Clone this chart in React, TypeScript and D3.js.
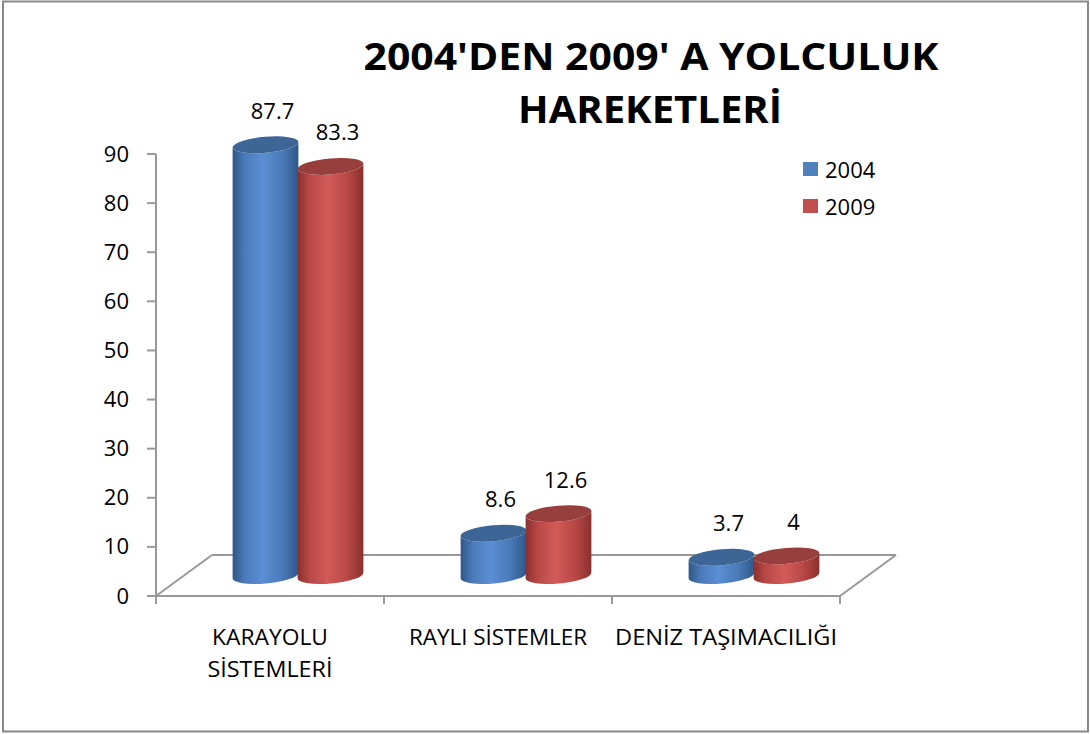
import React from "react";
import * as d3 from "d3";

const categories = ["KARAYOLU SİSTEMLERİ", "RAYLI SİSTEMLER", "DENİZ TAŞIMACILIĞI"];
const categoryLines = [["KARAYOLU", "SİSTEMLERİ"], ["RAYLI SİSTEMLER"], ["DENİZ TAŞIMACILIĞI"]];
const series = ["2004", "2009"];
const values2004 = [87.7, 8.6, 3.7];
const values2009 = [83.3, 12.6, 4];
const yTicks = [0, 10, 20, 30, 40, 50, 60, 70, 80, 90];
const titleLines = ["2004'DEN 2009' A YOLCULUK", "HAREKETLERİ"];

const W = 1090;
const H = 734;
const FONT = "'Open Sans', 'Noto Sans', sans-serif";

const labelWidths: Record<string, number> = {
  "KARAYOLU": 116,
  "SİSTEMLERİ": 125,
  "RAYLI SİSTEMLER": 178,
  "DENİZ TAŞIMACILIĞI": 222,
};

const colors = {
  "2004": { dark: "#2f5889", mid: "#4a7ab8", light: "#5b8ed4", top: "#3d6696", legend: "#4f81bd" },
  "2009": { dark: "#8a302e", mid: "#b84846", light: "#d35b59", top: "#973f3d", legend: "#c0504d" },
};

export default function App() {
  const left = 156;
  const right = 840;
  const top = 154;
  const bottom = 596;
  const dx = 28; // depth offset (middle of floor)
  const dy = -20.5;
  const backDx = 56;
  const backDy = -41;

  const y = d3.scaleLinear().domain([0, 90]).range([bottom, top]);
  const x = d3.scaleBand<string>().domain(categories).range([left, right]).padding(0);
  const bw = x.bandwidth();
  const xs = d3.scaleBand<string>().domain(series).range([bw / 2 - 65, bw / 2 + 65]).padding(0);

  const rx = 33;
  const ry = 8;
  const theta = -5;
  const tr = (theta * Math.PI) / 180;
  const cosT = Math.cos(tr);
  const sinT = Math.sin(tr);

  const valuesBySeries: Record<string, number[]> = { "2004": values2004, "2009": values2009 };

  const cylinders: any[] = [];
  series.forEach((s) => {
    categories.forEach((c, i) => {
      const v = valuesBySeries[s][i];
      const cx = (x(c) as number) + (xs(s) as number) + xs.bandwidth() / 2 + dx;
      const y0 = y(0) + dy;
      const y1 = y(v) + dy;
      cylinders.push({ s, c, i, v, cx, y0, y1 });
    });
  });
  cylinders.sort((a, b) => a.i - b.i || series.indexOf(a.s) - series.indexOf(b.s));

  const bodyPath = (cx: number, y0: number, y1: number) => {
    const Lx = cx - rx * cosT;
    const Rx = cx + rx * cosT;
    const Ly0 = y0 - rx * sinT;
    const Ry0 = y0 + rx * sinT;
    const Ly1 = y1 - rx * sinT;
    const Ry1 = y1 + rx * sinT;
    return `M${Lx},${Ly1} L${Lx},${Ly0} A${rx},${ry} ${theta} 0 0 ${Rx},${Ry0} L${Rx},${Ry1} A${rx},${ry} ${theta} 0 1 ${Lx},${Ly1} Z`;
  };

  const axisColor = "#999999";

  return (
    <svg width={W} height={H} style={{ position: "absolute", left: 0, top: 0 }}>
      <defs>
        {series.map((s) => (
          <linearGradient key={s} id={`g${s}`} x1="0" x2="1" y1="0" y2="0">
            <stop offset="0" stopColor={colors[s].dark} />
            <stop offset="0.18" stopColor={colors[s].mid} />
            <stop offset="0.45" stopColor={colors[s].light} />
            <stop offset="0.75" stopColor={colors[s].mid} />
            <stop offset="1" stopColor={colors[s].dark} />
          </linearGradient>
        ))}
      </defs>
      <rect x={0} y={0} width={W} height={H} fill="#ffffff" />
      <rect x={3} y={1.5} width={1085} height={730} fill="none" stroke="#888888" strokeWidth={2} />

      {/* Title */}
      <text x={651} y={70} textAnchor="middle" fontFamily={FONT} fontWeight={700} fontSize={38}
        textLength={575} lengthAdjust="spacingAndGlyphs" fill="#000">{titleLines[0]}</text>
      <text x={650} y={123} textAnchor="middle" fontFamily={FONT} fontWeight={700} fontSize={38}
        textLength={264} lengthAdjust="spacingAndGlyphs" fill="#000">{titleLines[1]}</text>

      {/* Floor */}
      <g stroke={axisColor} strokeWidth={2} fill="none">
        <line x1={left} y1={bottom} x2={right} y2={bottom} />
        <line x1={left + backDx} y1={bottom + backDy} x2={right + backDx} y2={bottom + backDy} />
        <line x1={left} y1={bottom} x2={left + backDx} y2={bottom + backDy} />
        <line x1={right} y1={bottom} x2={right + backDx} y2={bottom + backDy} />
        {[...categories.map((c) => x(c) as number), right].map((t, k) => (
          <line key={k} x1={t} y1={bottom} x2={t} y2={bottom + 8} />
        ))}
        <line x1={left} y1={y(0)} x2={left} y2={y(90)} />
        {yTicks.map((t) => (
          <line key={t} x1={left - 9} y1={y(t)} x2={left} y2={y(t)} />
        ))}
      </g>

      {/* Y tick labels */}
      {yTicks.map((t) => (
        <text key={t} x={129} y={y(t) + 7.5} textAnchor="end" fontFamily={FONT} fontSize={22} fill="#000">
          {t}
        </text>
      ))}

      {/* Cylinders */}
      {cylinders.map((d) => (
        <g key={`${d.s}-${d.c}`}>
          <path d={bodyPath(d.cx, d.y0, d.y1)} fill={`url(#g${d.s})`} />
          <ellipse cx={d.cx} cy={d.y1} rx={rx} ry={ry} fill={colors[d.s].top}
            transform={`rotate(${theta},${d.cx},${d.y1})`} />
        </g>
      ))}

      {/* Data labels */}
      {cylinders.map((d) => (
        <text key={`l-${d.s}-${d.c}`} x={d.cx + 7} y={d.y1 - 26} textAnchor="middle" fontFamily={FONT}
          fontSize={22} fill="#000">
          {d.v}
        </text>
      ))}

      {/* Category labels */}
      {categories.map((c, i) => (
        <g key={c}>
          {categoryLines[i].map((ln, k) => (
            <text key={k} x={(x(c) as number) + bw / 2} y={645 + k * 32} textAnchor="middle" fontFamily={FONT}
              fontSize={21} textLength={labelWidths[ln]} lengthAdjust="spacingAndGlyphs" fill="#000">
              {ln}
            </text>
          ))}
        </g>
      ))}

      {/* Legend */}
      {series.map((s, k) => (
        <g key={s}>
          <rect x={803} y={162 + k * 37} width={15} height={14} fill={colors[s].legend} />
          <text x={825} y={177.5 + k * 37} fontFamily={FONT} fontSize={22} fill="#000">{s}</text>
        </g>
      ))}
    </svg>
  );
}
